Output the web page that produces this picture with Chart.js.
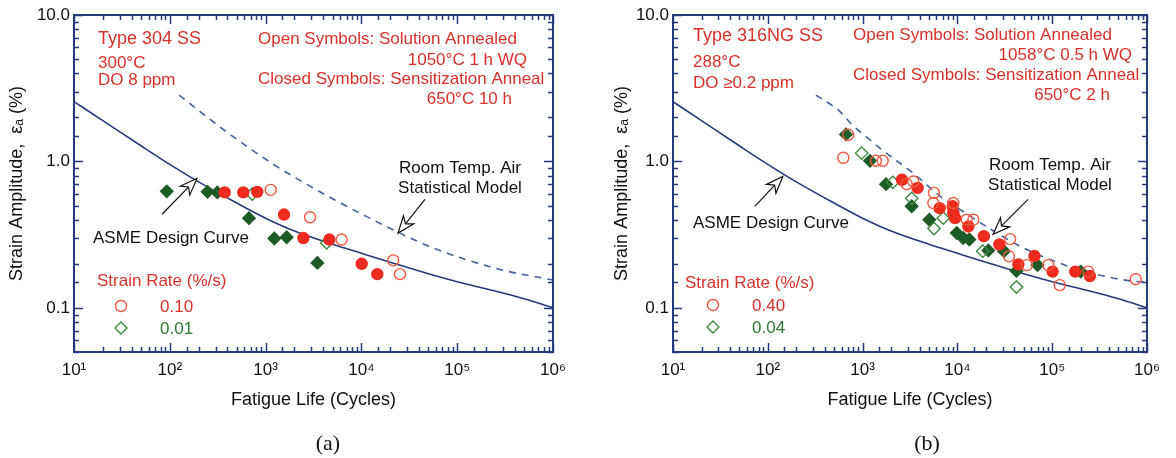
<!DOCTYPE html>
<html>
<head>
<meta charset="utf-8">
<script src="https://cdn.jsdelivr.net/npm/chart.js@4.4.1/dist/chart.umd.min.js"></script>
<style>
  body { margin: 0; background: #fff; width: 1176px; height: 458px; position: relative; overflow: hidden; }
  .panel { position: absolute; top: 0; }
  .cap { position: absolute; top: 430px; width: 80px; text-align: center; font: 22px "Liberation Serif", "Times New Roman", serif; color: #111; }
</style>
</head>
<body>
<div class="panel" style="left:0"><canvas id="chartA" width="590" height="458"></canvas></div>
<div class="panel" style="left:590px"><canvas id="chartB" width="586" height="458"></canvas></div>
<div class="cap" style="left:288px">(a)</div>
<div class="cap" style="left:887px">(b)</div>
<script>
// ASME design curve, same in both panels
const asmeN   = [10, 20, 50, 100, 200, 500, 1000, 2000, 5000, 10000, 20000, 50000, 100000, 200000, 500000, 1000000];
const asmeEps = [2.56, 1.90, 1.28, 0.955, 0.725, 0.52, 0.41, 0.335, 0.272, 0.236, 0.205, 0.171, 0.151, 0.135, 0.1155, 0.100];

// Room temp. air statistical model, panel (a)
const airA_N   = [125, 368, 1225, 3150, 5180, 11350, 56000, 280000, 1000000];
const airA_Eps = [2.84, 1.64, 0.95, 0.658, 0.55, 0.42, 0.257, 0.183, 0.155];

// Room temp. air statistical model, panel (b)
const airB_N   = [322, 578, 767, 1087, 1527, 3430, 6550, 10640, 42300, 94800, 213000, 660000, 1000000];
const airB_Eps = [2.84, 2.19, 1.79, 1.48, 1.23, 0.83, 0.58, 0.47, 0.271, 0.214, 0.179, 0.153, 0.15];

// Panel (a) Type 304 SS, 300C
const a_sa010_N  = [1130, 2910, 6220, 21500, 25300];
const a_sa010_E  = [0.64, 0.416, 0.293, 0.211, 0.17];
const a_sa001_N  = [726, 4340];
const a_sa001_E  = [0.60, 0.278];
const a_sen010_N = [374, 585, 818, 1556, 2480, 4630, 10070, 14650];
const a_sen010_E = [0.615, 0.615, 0.62, 0.434, 0.30, 0.293, 0.20, 0.17];
const a_sen001_N = [93, 248, 313, 671, 1233, 1660, 3470];
const a_sen001_E = [0.625, 0.62, 0.615, 0.41, 0.298, 0.304, 0.203];

// Panel (b) Type 316NG SS, 288C
const b_sa040_N  = [626, 706, 1383, 1629, 2917, 3427, 5570, 5660, 9060, 12540, 14730, 35000, 36000, 54000, 91000, 120000, 240000, 760000];
const b_sa040_E  = [1.06, 1.52, 1.01, 1.01, 0.70, 0.73, 0.52, 0.61, 0.52, 0.40, 0.40, 0.225, 0.295, 0.196, 0.196, 0.143, 0.177, 0.157];
const b_sa004_N  = [977, 2080, 3296, 5660, 7100, 18490, 42000];
const b_sa004_E  = [1.14, 0.72, 0.56, 0.348, 0.41, 0.244, 0.139];
const b_sen040_N = [2600, 3800, 6500, 8910, 9060, 9440, 13040, 19000, 27700, 44000, 65000, 101000, 175000, 250000];
const b_sen040_E = [0.75, 0.66, 0.48, 0.494, 0.445, 0.41, 0.36, 0.309, 0.271, 0.198, 0.226, 0.177, 0.177, 0.165];
const b_sen004_N = [668, 1197, 1766, 3296, 5060, 9840, 11500, 13370, 21200, 31000, 42000, 70000, 200000];
const b_sen004_E = [1.53, 1.01, 0.70, 0.494, 0.40, 0.325, 0.30, 0.293, 0.247, 0.244, 0.179, 0.196, 0.177];

const xTickLabels = { 10: "10\u00B9", 100: "10\u00B2", 1000: "10\u00B3", 10000: "10\u2074", 100000: "10\u2075", 1000000: "10\u2076" };
const yTickLabels = { 10: "10.0", 1: "1.0", 0.1: "0.1" };

const NAVY = "#253a7d";
const DASH = "#41639a";
const RED = "#ee2b1f";
const RED_OPEN = "#f0583f";
const RED_TEXT = "#d8312a";
const GREEN = "#1e5c27";
const GREEN_OPEN = "#3b8a3f";

Chart.defaults.font.family = '"Liberation Sans", Arial, sans-serif';
Chart.defaults.color = "#111";

const zip = (xs, ys) => xs.map((x, i) => ({ x: x, y: ys[i] }));
const isDecade = v => Math.abs(Math.log10(v) - Math.round(Math.log10(v))) < 1e-6;
const decadeKey = v => Math.pow(10, Math.round(Math.log10(v)));

// frame with inward ticks on all four sides
const framePlugin = {
  id: "frame",
  afterDraw(chart) {
    const { ctx, chartArea: a, scales: { x, y } } = chart;
    ctx.save();
    ctx.strokeStyle = NAVY;
    ctx.lineWidth = 1.5;
    x.ticks.forEach(t => {
      const px = Math.round(x.getPixelForValue(t.value)) + 0.5;
      const len = isDecade(t.value) ? 9 : 5;
      ctx.beginPath();
      ctx.moveTo(px, a.bottom); ctx.lineTo(px, a.bottom - len);
      ctx.moveTo(px, a.top); ctx.lineTo(px, a.top + len);
      ctx.stroke();
    });
    y.ticks.forEach(t => {
      const py = Math.round(y.getPixelForValue(t.value)) + 0.5;
      const len = isDecade(t.value) ? 9 : 5;
      ctx.beginPath();
      ctx.moveTo(a.left, py); ctx.lineTo(a.left + len, py);
      ctx.moveTo(a.right, py); ctx.lineTo(a.right - len, py);
      ctx.stroke();
    });
    ctx.lineWidth = 2;
    ctx.strokeRect(a.left, a.top, a.right - a.left, a.bottom - a.top);
    ctx.restore();
  }
};

function drawArrow(ctx, x0, y0, x1, y1) {
  const dx = x1 - x0, dy = y1 - y0;
  const d = Math.hypot(dx, dy);
  const ux = dx / d, uy = dy / d, vx = -uy, vy = ux;
  const L = 17, W = 6.5;
  const bx = x1 - ux * L, by = y1 - uy * L;
  ctx.beginPath();
  ctx.moveTo(x0, y0);
  ctx.lineTo(x1 - ux * L * 0.7, y1 - uy * L * 0.7);
  ctx.stroke();
  ctx.beginPath();
  ctx.moveTo(x1, y1);
  ctx.lineTo(bx + vx * W, by + vy * W);
  ctx.lineTo(x1 - ux * L * 0.7, y1 - uy * L * 0.7);
  ctx.lineTo(bx - vx * W, by - vy * W);
  ctx.closePath();
  ctx.fillStyle = "#fff";
  ctx.fill();
  ctx.stroke();
}

// texts, arrows and the strain-rate legend
const notesPlugin = {
  id: "notes",
  afterDraw(chart, args, opts) {
    const { ctx, scales: { x, y } } = chart;
    ctx.save();
    opts.texts.forEach(t => {
      ctx.font = (t.size || 17) + 'px "Liberation Sans", Arial, sans-serif';
      ctx.fillStyle = t.color;
      ctx.textAlign = t.align || "left";
      ctx.textBaseline = "alphabetic";
      ctx.fillText(t.text, t.x, t.y);
    });
    ctx.strokeStyle = "#111";
    ctx.lineWidth = 1.2;
    opts.arrows.forEach(a => {
      drawArrow(ctx, x.getPixelForValue(a.from[0]), y.getPixelForValue(a.from[1]),
                     x.getPixelForValue(a.to[0]), y.getPixelForValue(a.to[1]));
    });
    const lg = opts.legend;
    ctx.lineWidth = 1.4;
    ctx.strokeStyle = RED_OPEN;
    ctx.beginPath();
    ctx.arc(lg.x, lg.y1, 5.5, 0, Math.PI * 2);
    ctx.stroke();
    ctx.strokeStyle = GREEN_OPEN;
    ctx.beginPath();
    ctx.moveTo(lg.x, lg.y2 - 6); ctx.lineTo(lg.x + 6, lg.y2);
    ctx.lineTo(lg.x, lg.y2 + 6); ctx.lineTo(lg.x - 6, lg.y2);
    ctx.closePath();
    ctx.stroke();
    ctx.restore();
  }
};

function makeChart(id, cfg) {
  const scatter = (label, n, e, style, fill, border) => ({
    label: label,
    data: zip(n, e),
    pointStyle: style,
    pointRadius: style === "circle" ? 5.5 : 6.2,
    pointBackgroundColor: fill,
    pointBorderColor: border,
    pointBorderWidth: 1.4,
    showLine: false
  });
  return new Chart(document.getElementById(id), {
    type: "scatter",
    data: {
      datasets: [
        scatter("sa-open-circle", cfg.saRed[0], cfg.saRed[1], "circle", "rgba(255,255,255,0)", RED_OPEN),
        scatter("sen-circle", cfg.senRed[0], cfg.senRed[1], "circle", RED, RED),
        scatter("sa-open-diamond", cfg.saGreen[0], cfg.saGreen[1], "rectRot", "rgba(255,255,255,0)", GREEN_OPEN),
        scatter("sen-diamond", cfg.senGreen[0], cfg.senGreen[1], "rectRot", GREEN, GREEN),
        {
          label: "air model",
          data: zip(cfg.air[0], cfg.air[1]),
          showLine: true, pointRadius: 0, borderColor: DASH, borderWidth: 1.6,
          borderDash: [7, 6], cubicInterpolationMode: "monotone"
        },
        {
          label: "ASME",
          data: zip(asmeN, asmeEps),
          showLine: true, pointRadius: 0, borderColor: NAVY, borderWidth: 1.6,
          cubicInterpolationMode: "monotone"
        }
      ]
    },
    options: {
      responsive: false,
      animation: false,
      devicePixelRatio: 1,
      layout: { padding: { left: 0, right: cfg.padRight, top: 15, bottom: 43 } },
      plugins: {
        legend: { display: false },
        tooltip: { enabled: false },
        notes: cfg.notes
      },
      scales: {
        x: {
          type: "logarithmic", min: 10, max: 1000000,
          grid: { display: false, drawTicks: false },
          border: { display: false },
          ticks: {
            autoSkip: false, maxRotation: 0, padding: 8, color: "#111", font: { size: 17 },
            callback: v => isDecade(v) ? xTickLabels[decadeKey(v)] : ""
          },
          title: { display: true, text: "Fatigue Life (Cycles)", color: "#111", font: { size: 18 }, padding: { top: 0, bottom: 4 } },
          afterFit: s => { s.height = 63; }
        },
        y: {
          type: "logarithmic", min: 0.05, max: 10,
          grid: { display: false, drawTicks: false },
          border: { display: false },
          ticks: {
            autoSkip: false, padding: 4, color: "#111", font: { size: 17 },
            callback: v => isDecade(v) ? (yTickLabels[decadeKey(v)] || "") : ""
          },
          title: { display: true, text: "Strain Amplitude,  \u03B5\u2090 (%)", color: "#111", font: { size: 18 }, padding: { top: cfg.yTitlePad, bottom: 0 } },
          afterFit: s => { s.width = cfg.yWidth; }
        }
      }
    },
    plugins: [framePlugin, notesPlugin]
  });
}

makeChart("chartA", {
  padRight: 37, yWidth: 74, yTitlePad: 6,
  saRed: [a_sa010_N, a_sa010_E], senRed: [a_sen010_N, a_sen010_E],
  saGreen: [a_sa001_N, a_sa001_E], senGreen: [a_sen001_N, a_sen001_E],
  air: [airA_N, airA_Eps],
  notes: {
    texts: [
      { text: "Type 304 SS", x: 98, y: 44, color: RED_TEXT, size: 18 },
      { text: "300\u00B0C", x: 98, y: 68, color: RED_TEXT },
      { text: "DO 8 ppm", x: 98, y: 85, color: RED_TEXT },
      { text: "Open Symbols: Solution Annealed", x: 258, y: 44, color: RED_TEXT },
      { text: "1050\u00B0C 1 h WQ", x: 527, y: 65, color: RED_TEXT, align: "right" },
      { text: "Closed Symbols: Sensitization Anneal", x: 258, y: 84, color: RED_TEXT },
      { text: "650\u00B0C 10 h", x: 512, y: 104, color: RED_TEXT, align: "right" },
      { text: "Room Temp. Air", x: 460, y: 173, color: "#111", align: "center" },
      { text: "Statistical Model", x: 460, y: 193, color: "#111", align: "center" },
      { text: "ASME Design Curve", x: 93, y: 243, color: "#111" },
      { text: "Strain Rate (%/s)", x: 97, y: 286, color: RED_TEXT },
      { text: "0.10", x: 160, y: 312, color: RED_TEXT },
      { text: "0.01", x: 160, y: 334, color: "#2f7a33" }
    ],
    arrows: [
      { from: [83, 0.436], to: [192, 0.766] },
      { from: [46100, 0.551], to: [24100, 0.324] }
    ],
    legend: { x: 121, y1: 306, y2: 328 }
  }
});

makeChart("chartB", {
  padRight: 29, yWidth: 83, yTitlePad: 21,
  saRed: [b_sa040_N, b_sa040_E], senRed: [b_sen040_N, b_sen040_E],
  saGreen: [b_sa004_N, b_sa004_E], senGreen: [b_sen004_N, b_sen004_E],
  air: [airB_N, airB_Eps],
  notes: {
    texts: [
      { text: "Type 316NG SS", x: 103, y: 41, color: RED_TEXT, size: 18 },
      { text: "288\u00B0C", x: 103, y: 67, color: RED_TEXT },
      { text: "DO \u22650.2 ppm", x: 103, y: 88, color: RED_TEXT },
      { text: "Open Symbols: Solution Annealed", x: 263, y: 40, color: RED_TEXT },
      { text: "1058\u00B0C 0.5 h WQ", x: 542, y: 60, color: RED_TEXT, align: "right" },
      { text: "Closed Symbols: Sensitization Anneal", x: 263, y: 80, color: RED_TEXT },
      { text: "650\u00B0C 2 h", x: 520, y: 100, color: RED_TEXT, align: "right" },
      { text: "Room Temp. Air", x: 460, y: 170, color: "#111", align: "center" },
      { text: "Statistical Model", x: 460, y: 190, color: "#111", align: "center" },
      { text: "ASME Design Curve", x: 103, y: 228, color: "#111" },
      { text: "Strain Rate (%/s)", x: 95, y: 288, color: RED_TEXT },
      { text: "0.40", x: 162, y: 311, color: RED_TEXT },
      { text: "0.04", x: 162, y: 333, color: "#2f7a33" }
    ],
    arrows: [
      { from: [73, 0.494], to: [144, 0.79] },
      { from: [55600, 0.551], to: [23800, 0.318] }
    ],
    legend: { x: 123, y1: 305, y2: 327 }
  }
});
</script>
</body>
</html>
